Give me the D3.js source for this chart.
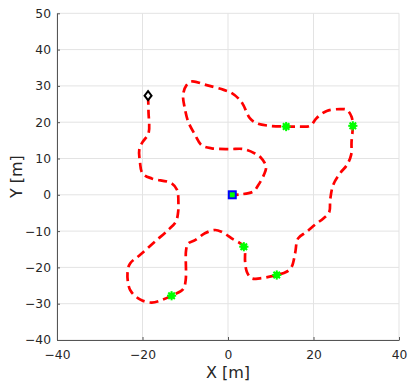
<!DOCTYPE html>
<html><head><meta charset="utf-8">
<script src="https://cdn.jsdelivr.net/npm/d3@7"></script>
<style>body{margin:0;background:#fff}svg{display:block}text{font-family:"DejaVu Sans",sans-serif}</style>
</head><body>
<script>
const xTicks=[-40,-20,0,20,40];
const yTicks=[-40,-30,-20,-10,0,10,20,30,40,50];
const pathX=[-18.7,-18.6,-18.6,-20.0,-20.75,-20.6,-20.0,-17.85,-13.2,-11.9,-11.6,-11.7,-12.2,-14.0,-17.1,-20.6,-22.9,-23.5,-22.9,-20.6,-17.85,-15.5,-13.2,-10.5,-9.9,-9.8,-9.3,-7.7,-5.4,-3.0,-1.5,0.85,3.7,4.0,4.4,5.5,7.5,11.4,13.7,14.9,15.7,16.4,18.4,20.5,22.3,23.7,23.9,24.6,26.2,27.8,28.8,28.9,29.2,28.9,27.8,26.2,23.1,20.7,19.2,16.4,13.6,9.8,6.7,5.1,3.6,2.8,0.9,-1.0,-5.0,-8.5,-9.7,-10.5,-10.1,-9.3,-7.7,-6.2,-3.8,0.5,3.6,6.3,7.5,8.9,8.4,7.1,5.9,2.8,1.0];
const pathY=[27.3,23.0,16.9,14.5,12.5,9.1,5.9,4.5,3.2,1.3,-2.3,-5.1,-7.4,-9.7,-12.9,-16.6,-18.9,-21.2,-26.2,-28.8,-29.7,-29.0,-27.8,-26.0,-23.5,-15.2,-13.4,-12.5,-10.6,-9.7,-10.2,-12.0,-14.3,-18.4,-21.2,-23.0,-23.0,-22.1,-21.2,-19.8,-16.1,-12.0,-10.2,-8.1,-6.5,-4.7,-1.4,2.7,5.9,8.2,11.0,14.6,19.0,21.5,23.4,23.6,23.1,21.1,19.0,18.8,18.8,19.0,19.7,21.1,24.7,26.1,28.0,28.9,30.2,31.2,30.2,27.5,23.8,20.1,16.5,13.7,12.8,12.6,12.6,11.4,10.5,7.8,5.5,2.7,0.9,0.1,0.0];
const wpX=[-13.2,3.7,11.4,13.6,29.2];
const wpY=[-27.8,-14.3,-22.1,18.8,19.0];
const startPt=[-18.7,27.3];
const endPt=[1.0,0.0];

const W=409,H=387;
const svg=d3.select("body").append("svg").attr("width",W).attr("height",H);
const L=57,R=399,T=13.3,B=340;
const x=d3.scaleLinear().domain([-40,40]).range([L,R]);
const y=d3.scaleLinear().domain([-40,50]).range([B,T]);

const grid=svg.append("g");
xTicks.forEach(t=>grid.append("line").attr("x1",x(t)).attr("x2",x(t)).attr("y1",T).attr("y2",B).attr("stroke","#e3e3e3").attr("stroke-width",1));
yTicks.forEach(t=>grid.append("line").attr("x1",L).attr("x2",R).attr("y1",y(t)).attr("y2",y(t)).attr("stroke","#e3e3e3").attr("stroke-width",1));

const xa=svg.append("g").attr("transform",`translate(0,${B})`).call(d3.axisBottom(x).tickValues(xTicks).tickSize(-3).tickPadding(10).tickSizeOuter(0));
const ya=svg.append("g").attr("transform",`translate(${L},0)`).call(d3.axisLeft(y).tickValues(yTicks).tickSize(-3).tickPadding(6).tickSizeOuter(0));
[xa,ya].forEach(a=>{a.select(".domain").attr("stroke","#555").attr("stroke-width",1);a.selectAll(".tick line").attr("stroke","#555");a.selectAll("text").attr("fill","#262626").attr("font-size",12.3).attr("font-family","DejaVu Sans, sans-serif");});

const pts=pathX.map((v,i)=>[v,pathY[i]]);
const line=d3.line().x(d=>x(d[0])).y(d=>y(d[1])).curve(d3.curveCatmullRom.alpha(0.5));
svg.append("path").attr("d",line(pts)).attr("fill","none").attr("stroke","#ff0000").attr("stroke-width",2.7).attr("stroke-dasharray","9,5");

// waypoints (asterisk)
wpX.forEach((v,i)=>{
  const g=svg.append("g").attr("transform",`translate(${x(v)},${y(wpY[i])})`);
  g.append("circle").attr("r",3.2).attr("fill","#00ff00");
  [0,45,90,135].forEach(a=>{const r=4.6,rad=a*Math.PI/180;g.append("line").attr("x1",-r*Math.cos(rad)).attr("y1",-r*Math.sin(rad)).attr("x2",r*Math.cos(rad)).attr("y2",r*Math.sin(rad)).attr("stroke","#00ff00").attr("stroke-width",2);});
});

// start diamond
svg.append("path").attr("transform",`translate(${x(startPt[0])},${y(startPt[1])})`)
  .attr("d","M0,-4.5L3.5,0L0,4.5L-3.5,0Z").attr("fill","#fff").attr("stroke","#000").attr("stroke-width",2);
// end square
svg.append("rect").attr("x",x(endPt[0])-3.5).attr("y",y(endPt[1])-3.5).attr("width",7).attr("height",7)
  .attr("fill","#00ff00").attr("stroke","#0000ff").attr("stroke-width",2);

svg.append("text").attr("x",(L+R)/2).attr("y",378).attr("text-anchor","middle").attr("font-size",16).attr("fill","#262626").text("X [m]");
svg.append("text").attr("transform",`translate(22,${(T+B)/2}) rotate(-90)`).attr("text-anchor","middle").attr("font-size",16).attr("fill","#262626").text("Y [m]");
</script>
</body></html>
